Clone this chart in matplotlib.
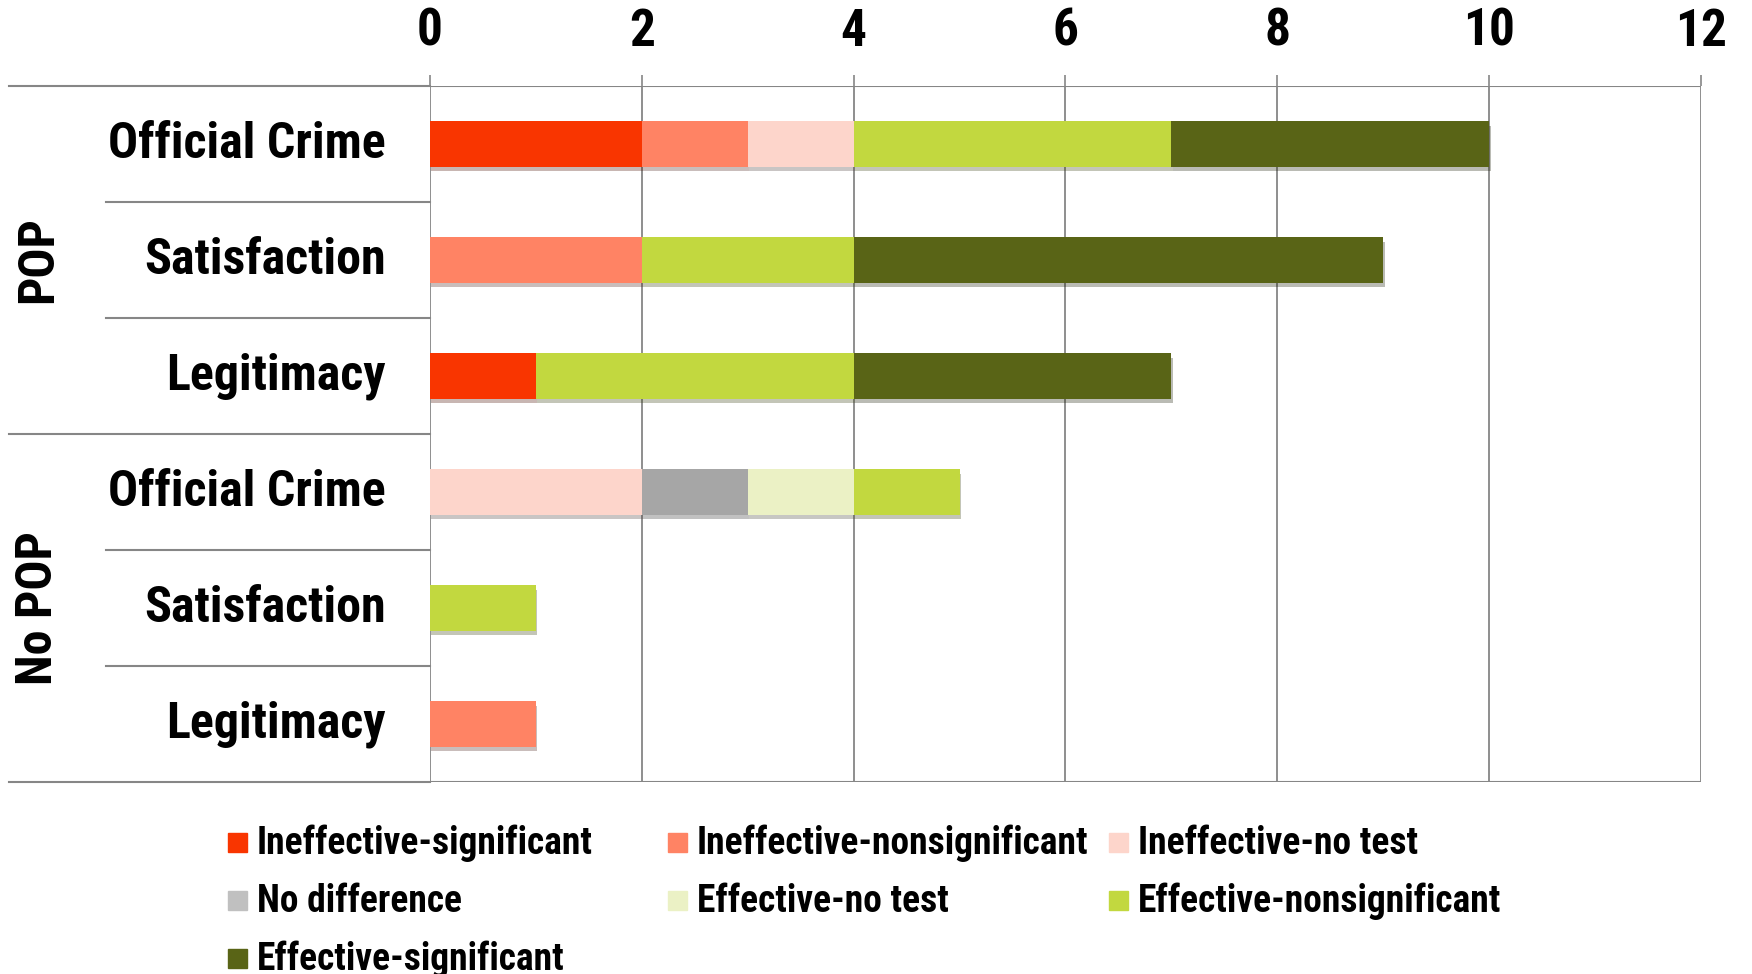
import matplotlib
import matplotlib.pyplot as plt
import matplotlib.patheffects as pe
from matplotlib import font_manager
from matplotlib.patches import Rectangle
from matplotlib.lines import Line2D
from matplotlib.transforms import blended_transform_factory

matplotlib.use("Agg")

# prefer a narrow bold face, fall back to whatever sans is around
installed = {f.name for f in font_manager.fontManager.ttflist}
narrow = [n for n in ["Liberation Sans Narrow", "DejaVu Sans Condensed", "Roboto Condensed",
                      "Open Sans Condensed", "Noto Sans Condensed"] if n in installed]
plt.rcParams["font.family"] = narrow + ["DejaVu Sans"]
plt.rcParams["font.stretch"] = "condensed"
plt.rcParams["font.weight"] = "bold"

groups = ["POP", "No POP"]
outcomes = ["Official Crime", "Satisfaction", "Legitimacy"]

series_names = [
    "Ineffective-significant",
    "Ineffective-nonsignificant",
    "Ineffective-no test",
    "No difference",
    "Effective-no test",
    "Effective-nonsignificant",
    "Effective-significant",
]
series_colors = ["#f93500", "#ff8364", "#fdd5cb", "#a6a6a6", "#ebf1c5", "#c2d83f", "#596416"]
legend_colors = ["#f93500", "#ff8364", "#fdd5cb", "#c0c0c0", "#ebf1c5", "#c2d83f", "#596416"]

# counts per row, top to bottom: POP x3 then No POP x3
ineffective_sig = [2, 0, 1, 0, 0, 0]
ineffective_nonsig = [1, 2, 0, 0, 0, 1]
ineffective_notest = [1, 0, 0, 2, 0, 0]
no_difference = [0, 0, 0, 1, 0, 0]
effective_notest = [0, 0, 0, 1, 0, 0]
effective_nonsig = [3, 2, 3, 1, 1, 0]
effective_sig = [3, 5, 3, 0, 0, 0]

series = [ineffective_sig, ineffective_nonsig, ineffective_notest, no_difference,
          effective_notest, effective_nonsig, effective_sig]

fig = plt.figure(figsize=(17.52, 9.74), dpi=100)
ax = fig.add_axes([0.2454, 0.1971, 0.7255, 0.7146])

rows = list(range(6))
left = [0] * 6
for vals, color in zip(series, series_colors):
    bars = ax.barh(rows, vals, left=left, height=0.39, color=color, zorder=3)
    for b in bars:
        b.set_path_effects([pe.SimplePatchShadow(offset=(1, -3), alpha=0.3), pe.Normal()])
    left = [l + v for l, v in zip(left, vals)]

ax.set_xlim(0, 12)
ax.set_ylim(5.5, -0.5)
ax.set_xticks(range(0, 13, 2))
ax.set_yticks([])
ax.xaxis.tick_top()
ax.tick_params(axis="x", length=8, width=1.2, color="#868686", pad=13, labelsize=37)
for s in ax.spines.values():
    s.set_visible(False)
for x in range(0, 13, 2):
    ax.axvline(x, color="#868686", lw=1.3, zorder=1)

# separator lines across the label area
trans = blended_transform_factory(fig.transFigure, ax.transData)
line_kw = dict(color="#868686", lw=1.5, transform=trans, clip_on=False)
for y in [-0.5, 2.5, 5.5]:
    ax.add_line(Line2D([9 / 1752, 0.2454], [y, y], **line_kw))
for y in [0.5, 1.5, 3.5, 4.5]:
    ax.add_line(Line2D([106 / 1752, 0.2454], [y, y], **line_kw))
ax.axhline(-0.5, color="#868686", lw=1.5, zorder=1)
ax.axhline(5.5, color="#868686", lw=1.5, zorder=1)

# category and group labels
for i in rows:
    ax.text(386 / 1752, i, outcomes[i % 3], transform=trans, ha="right", va="center",
            fontsize=36, fontweight="bold")
for g, name in enumerate(groups):
    ax.text(39 / 1752, g * 3 + 1, name, transform=trans, ha="center", va="center",
            rotation=90, fontsize=36, fontweight="bold")

# legend laid out in three columns
col_x = [228, 668, 1109]
row_y = [843, 901, 959]
for k, (name, color) in enumerate(zip(series_names, legend_colors)):
    cx = col_x[k % 3] / 1752
    cy = 1 - row_y[k // 3] / 974
    fig.add_artist(Rectangle((cx, cy - 9 / 974), 19 / 1752, 19 / 974,
                             transform=fig.transFigure, color=color))
    fig.text(cx + 29 / 1752, cy, name, ha="left", va="center", fontsize=27, fontweight="bold")

fig.savefig("out.png", dpi=100)
